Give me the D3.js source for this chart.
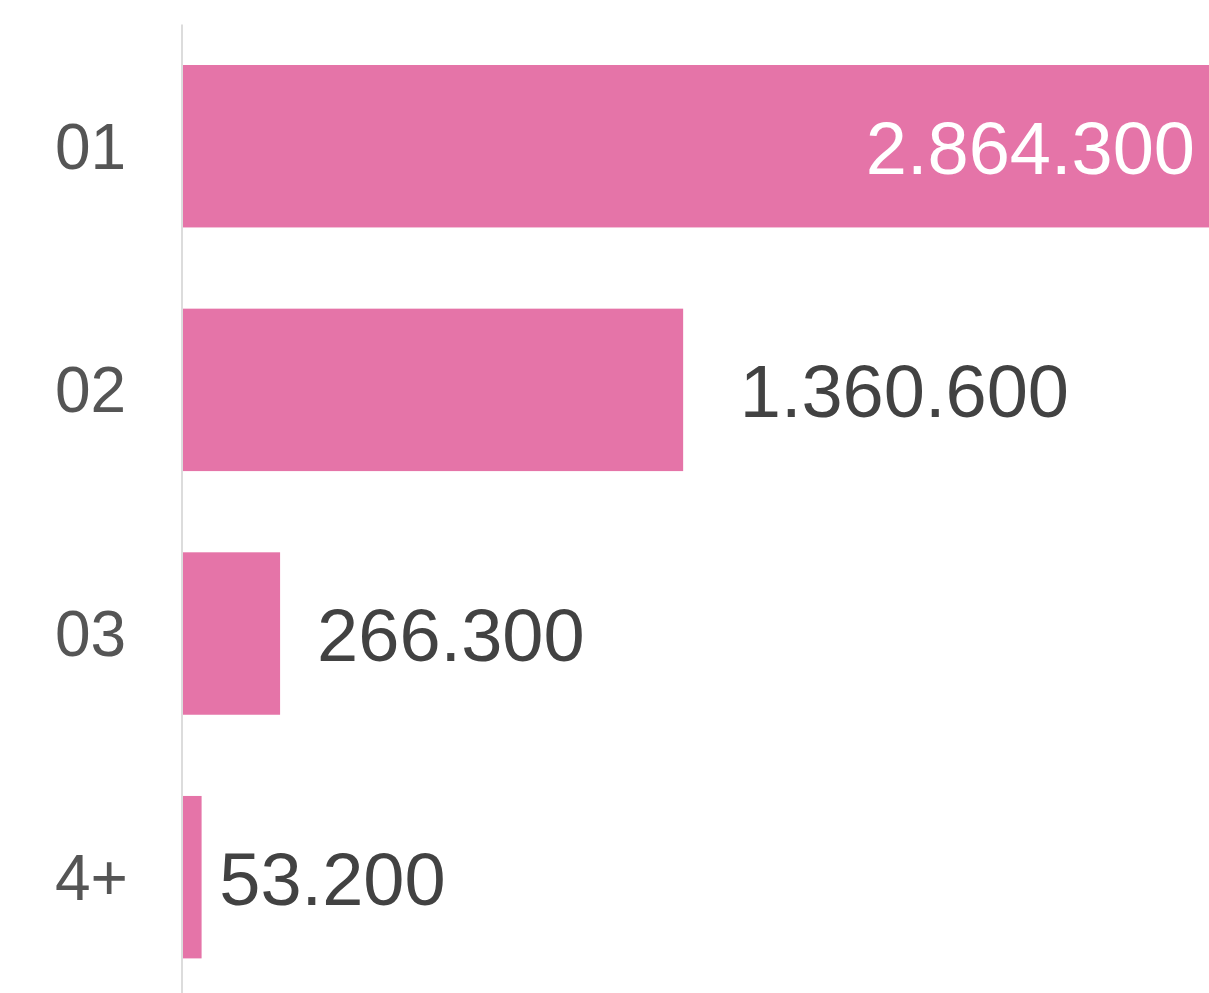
<!DOCTYPE html>
<meta charset="utf-8">
<script src="https://d3js.org/d3.v7.min.js"></script>
<style>
body { margin: 0; background-color: white; overflow: hidden; }
text { font-family: "Liberation Sans", Arial, sans-serif; }
</style>
<div id="chart"></div>
<script>
  // data
  var categories = ["01", "02", "03", "4+"];
  var values = [2864300, 1360600, 266300, 53200];

  var width = 1209, height = 993;
  var barColor = "#e574a8";

  var svg = d3.select("#chart")
    .append("svg")
      .attr("width", width)
      .attr("height", height);

  // the plot is wider than the window, so the longest bar runs off the edge
  var x = d3.scaleLinear()
    .domain([0, d3.max(values)])
    .range([182, 1237]);

  var y = d3.scaleBand()
    .domain(categories)
    .range([24.4, 999])
    .paddingInner(1 / 3)
    .paddingOuter(1 / 6);

  var data = categories.map(function(c, i) { return {cat: c, value: values[i]}; });

  var fmt = d3.formatLocale({decimal: ",", thousands: ".", grouping: [3], currency: ["", ""]}).format(",d");

  svg.append("g")
    .selectAll("rect")
    .data(data)
    .join("rect")
      .attr("x", x(0))
      .attr("y", function(d) { return y(d.cat); })
      .attr("width", function(d) { return x(d.value) - x(0); })
      .attr("height", y.bandwidth())
      .attr("fill", barColor);

  // axis line
  svg.append("line")
    .attr("x1", x(0)).attr("x2", x(0))
    .attr("y1", y.range()[0]).attr("y2", height)
    .attr("stroke", "#dcdcdc")
    .attr("stroke-width", 2);

  // category labels
  svg.append("g")
    .selectAll("text")
    .data(data)
    .join("text")
      .attr("x", 55)
      .attr("y", function(d) { return y(d.cat) + y.bandwidth() / 2; })
      .attr("dy", "0.35em")
      .attr("font-size", 64)
      .attr("fill", "#555555")
      .text(function(d) { return d.cat; });

  // value labels: inside the bar when it fills the window, outside otherwise
  svg.append("g")
    .selectAll("text")
    .data(data)
    .join("text")
      .attr("x", function(d) {
        var end = x(d.value), w = end - x(0);
        if (end > width) return width - 14;
        return end + Math.max(8, 12 * Math.log(w) - 18);
      })
      .attr("y", function(d) { return y(d.cat) + y.bandwidth() / 2; })
      .attr("dy", "0.37em")
      .attr("text-anchor", function(d) { return x(d.value) > width ? "end" : "start"; })
      .attr("font-size", 74)
      .attr("fill", function(d) { return x(d.value) > width ? "#ffffff" : "#424242"; })
      .text(function(d) { return fmt(d.value); });
</script>
